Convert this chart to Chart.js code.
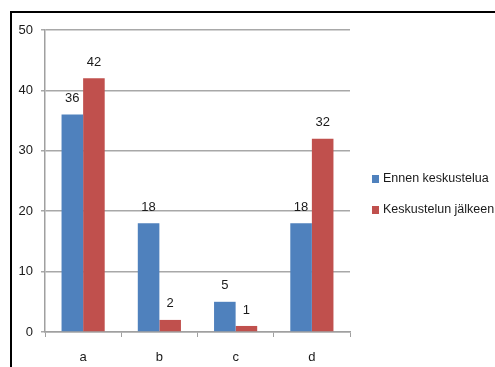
<!DOCTYPE html>
<html>
<head>
<meta charset="utf-8">
<script src="https://cdn.jsdelivr.net/npm/chart.js@4"></script>
<style>
  html, body { margin: 0; padding: 0; background: #fff; }
  #wrap { width: 495px; height: 367px; position: relative; }
</style>
</head>
<body>
<div id="wrap"><canvas id="myChart" width="495" height="367"></canvas></div>
<script>
const categories = ['a', 'b', 'c', 'd'];
const seriesNames = ['Ennen keskustelua', 'Keskustelun jälkeen'];
const beforeValues = [36, 18, 5, 18];
const afterValues = [42, 2, 1, 32];
const yTicks = [0, 10, 20, 30, 40, 50];
const colors = ['#4f81bd', '#c0504d'];

const font = "'Liberation Sans', Arial, sans-serif";

// frame lines (top and left edge of the original chart box)
const framePlugin = {
  id: 'frame',
  afterDraw(chart) {
    const c = chart.ctx;
    c.save();
    c.strokeStyle = '#000';
    c.lineWidth = 2;
    c.beginPath();
    c.moveTo(10, 12);
    c.lineTo(495, 12);
    c.moveTo(11, 12);
    c.lineTo(11, 367);
    c.stroke();
    c.restore();
  }
};

// value labels above the bars
const valueLabels = {
  id: 'valueLabels',
  afterDatasetsDraw(chart) {
    const c = chart.ctx;
    c.save();
    c.font = '13px ' + font;
    c.fillStyle = '#1a1a1a';
    c.textAlign = 'center';
    c.textBaseline = 'middle';
    chart.data.datasets.forEach((ds, i) => {
      chart.getDatasetMeta(i).data.forEach((bar, j) => {
        c.fillText(ds.data[j], bar.x, bar.y - 16);
      });
    });
    c.restore();
  }
};

// legend on the right
const sideLegend = {
  id: 'sideLegend',
  afterDraw(chart) {
    const c = chart.ctx;
    c.save();
    c.font = '12.5px ' + font;
    c.textBaseline = 'middle';
    chart.data.datasets.forEach((ds, i) => {
      const y = 179 + i * 31;
      c.fillStyle = ds.backgroundColor;
      c.fillRect(372, y - 4, 7, 8);
      c.fillStyle = '#1a1a1a';
      c.fillText(ds.label, 383, y);
    });
    c.restore();
  }
};

const ctx = document.getElementById('myChart').getContext('2d');
const myChart = new Chart(ctx, {
  type: 'bar',
  data: {
    labels: categories,
    datasets: [
      { label: seriesNames[0], data: beforeValues, backgroundColor: colors[0] },
      { label: seriesNames[1], data: afterValues, backgroundColor: colors[1] }
    ]
  },
  options: {
    responsive: false,
    animation: false,
    layout: { padding: { top: 30, right: 145, left: 0, bottom: 0 } },
    datasets: { bar: { categoryPercentage: 0.566, barPercentage: 1 } },
    plugins: { legend: { display: false }, tooltip: { enabled: false } },
    scales: {
      x: {
        afterFit(scale) { scale.height = 35; },
        grid: { offset: true, drawOnChartArea: false, drawTicks: true, tickLength: 5, color: '#a0a0a0' },
        border: { color: '#a0a0a0', width: 1.5 },
        ticks: { padding: 13, color: '#1a1a1a', font: { family: font, size: 13 } }
      },
      y: {
        min: 0,
        max: 50,
        afterFit(scale) { scale.width = 45; },
        afterBuildTicks(scale) { scale.ticks = yTicks.map(v => ({ value: v })); },
        grid: { color: '#a8a8a8', lineWidth: 1.5, tickLength: 4 },
        border: { color: '#a0a0a0', width: 1.5 },
        ticks: { padding: 8, color: '#1a1a1a', font: { family: font, size: 13 } }
      }
    }
  },
  plugins: [framePlugin, valueLabels, sideLegend]
});
</script>
</body>
</html>
